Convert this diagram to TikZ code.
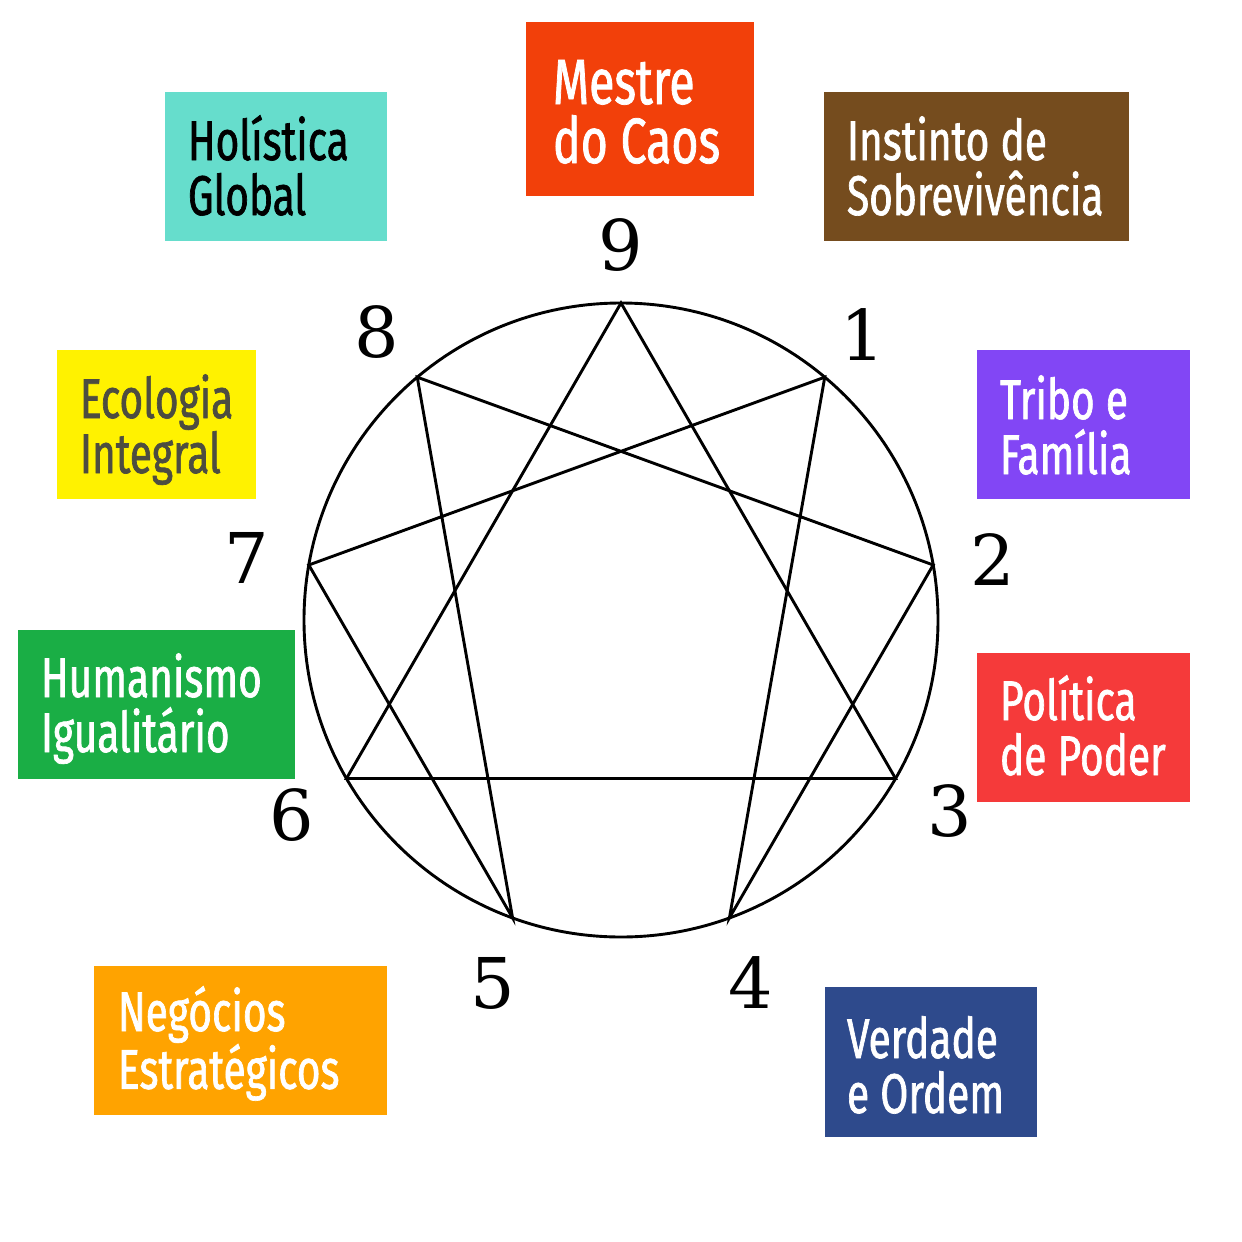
\documentclass[tikz,border=0pt]{standalone}
\usepackage{fontspec}
\usetikzlibrary{calc}
\newfontfamily\boxfont{Fira Sans}[FakeStretch=0.725, FakeBold=1.2]
\newfontfamily\digitfont{DejaVu Serif}
\definecolor{cMestre}{RGB}{242,64,10}
\definecolor{cHol}{RGB}{102,221,204}
\definecolor{cInst}{RGB}{117,76,30}
\definecolor{cTribo}{RGB}{130,70,245}
\definecolor{cEco}{RGB}{255,242,0}
\definecolor{cEcoTxt}{RGB}{77,77,64}
\definecolor{cPol}{RGB}{245,58,58}
\definecolor{cHum}{RGB}{26,174,69}
\definecolor{cNeg}{RGB}{255,163,0}
\definecolor{cVer}{RGB}{46,74,140}
\begin{document}
\begin{tikzpicture}[x=1pt,y=-1pt,
  cbox/.style={draw=none, inner sep=0pt, outer sep=0pt, anchor=north west},
  lbl/.style={anchor=base west, inner sep=0pt, outer sep=0pt, align=left, text width=300pt,
    font=\boxfont\fontsize{56}{55}\selectfont,
    execute at begin node={\spaceskip=0.2em\relax}},
  biglbl/.style={lbl, font=\boxfont\fontsize{64}{59}\selectfont},
  digit/.style={inner sep=0pt, font=\digitfont\fontsize{70}{70}\selectfont},
  ennea/.style={line width=2.9pt, line join=miter, black}]
\useasboundingbox (0,0) rectangle (1242,1242);
\fill[white] (0,0) rectangle (1242,1242);
% boxes
\node[cbox, fill=cMestre, minimum width=228pt, minimum height=174pt] (bMestre) at (526,22) {};
\node[cbox, fill=cHol, minimum width=222pt, minimum height=149pt] (bHol) at (165,92) {};
\node[cbox, fill=cInst, minimum width=305pt, minimum height=149pt] (bInst) at (824,92) {};
\node[cbox, fill=cTribo, minimum width=213pt, minimum height=149pt] (bTribo) at (977,350) {};
\node[cbox, fill=cEco, minimum width=199pt, minimum height=149pt] (bEco) at (57,350) {};
\node[cbox, fill=cPol, minimum width=213pt, minimum height=149pt] (bPol) at (977,653) {};
\node[cbox, fill=cHum, minimum width=277pt, minimum height=149pt] (bHum) at (18,630) {};
\node[cbox, fill=cNeg, minimum width=293pt, minimum height=149pt] (bNeg) at (94,966) {};
\node[cbox, fill=cVer, minimum width=212pt, minimum height=150pt] (bVer) at (825,987) {};
% texts
\node[biglbl, text=white] (tMestre) at (553,104) {Mestre\\do Caos};
\node[lbl, text=black] (tHol) at (188,160) {Holística\\Global};
\node[lbl, text=white] (tInst) at (847,160) {Instinto de\\Sobrevivência};
\node[lbl, text=white] (tTribo) at (1000,419) {Tribo e\\Família};
\node[lbl, text=cEcoTxt] (tEco) at (80,418) {Ecologia\\Integral};
\node[lbl, text=white] (tPol) at (1000,720) {Política\\de Poder};
\node[lbl, text=white] (tHum) at (41,697) {Humanismo\\Igualitário};
\node[lbl, text=white] (tNeg) at (118,1031) {Negócios\\Estratégicos};
\node[lbl, text=white] (tVer) at (847,1058) {Verdade\\e Ordem};
% enneagram
\coordinate (c) at (621,620);
\foreach \k in {0,...,8} {
  \coordinate (p\k) at ($(c)+({317*cos(90-40*\k)},{-317*sin(90-40*\k)})$);
}
\draw[ennea] (c) circle[radius=317];
\draw[ennea] (p0) -- (p3) -- (p6) -- cycle;
\draw[ennea] (p1) -- (p4) -- (p2) -- (p8) -- (p5) -- (p7) -- cycle;
% digits
\node[digit] (d9) at (621,245) {9};
\node[digit] (d1) at (863,335) {1};
\node[digit] (d2) at (993,560) {2};
\node[digit] (d3) at (950,811) {3};
\node[digit] (d4) at (751,983) {4};
\node[digit] (d5) at (493,983) {5};
\node[digit] (d6) at (292,815) {6};
\node[digit] (d7) at (247,558) {7};
\node[digit] (d8) at (377,332) {8};
\end{tikzpicture}
\end{document}
